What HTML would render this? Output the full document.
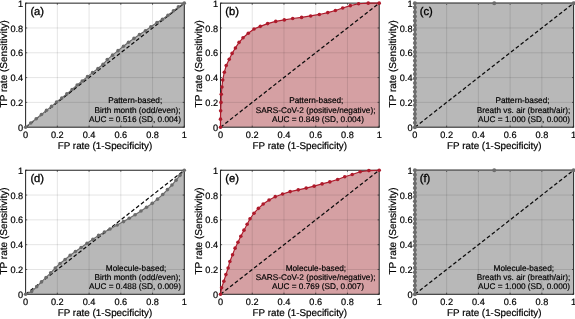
<!DOCTYPE html>
<html lang="en"><head><meta charset="utf-8"><title>ROC curves</title>
<style>
html,body{margin:0;padding:0;background:#fff;}
body{width:575px;height:319px;overflow:hidden;}
svg{display:block;font-family:"Liberation Sans", Arial, Helvetica, sans-serif;text-rendering:geometricPrecision;will-change:transform;}
svg text{fill:#000;stroke:#000;stroke-width:0.2px;}
.tk text{font-size:9.2px;}
.al{font-size:9.85px;}
svg .pl{font-size:11.2px;stroke-width:0.32px;}
svg .an{font-size:8.25px;stroke-width:0.18px;}
svg .yl{font-size:10.03px;}
</style></head><body>
<svg width="575" height="319" viewBox="0 0 575 319">
<rect width="575" height="319" fill="#fff"/>
<g>
<rect x="25.6" y="3.15" width="158.7" height="124.05" fill="#fff"/>
<polygon points="25.6,127.2 30.73,122.93 36.2,118.76 41.45,114.55 46.5,110.37 51.53,106.4 56.55,102.02 61.78,98.05 66.86,93.83 72.1,89.43 77.18,85.02 82.26,81.05 87.49,76.64 92.51,72.67 97.97,68.52 103.05,64.31 107.28,59.59 112.54,55.13 118.03,50.66 123.5,46.26 128.53,42.29 133.99,38.42 139.5,34.45 145.42,30.69 150.89,26.72 157,22.54 162.49,19.28 167.95,15.31 173.46,10.87 178.43,6.87 184.3,3.15 184.3,127.2 25.6,127.2" fill="#b8b8b8"/>
<path d="M57.34 3.15V127.2M25.6 102.39H184.3" stroke="#000" stroke-opacity="0.135" stroke-width="0.8" fill="none"/>
<path d="M89.08 3.15V127.2M25.6 77.58H184.3" stroke="#000" stroke-opacity="0.135" stroke-width="0.8" fill="none"/>
<path d="M120.82 3.15V127.2M25.6 52.77H184.3" stroke="#000" stroke-opacity="0.135" stroke-width="0.8" fill="none"/>
<path d="M152.56 3.15V127.2M25.6 27.96H184.3" stroke="#000" stroke-opacity="0.135" stroke-width="0.8" fill="none"/>
<line x1="25.6" y1="127.2" x2="184.3" y2="3.15" stroke="#0a0a0a" stroke-width="1.25" stroke-dasharray="3.75 2.35"/>
<rect x="25.6" y="3.15" width="158.7" height="124.05" fill="none" stroke="#2a2a2a" stroke-width="1.05"/>
<path d="M25.6 127.2v-1.6M25.6 3.15v1.6M25.6 127.2h1.6M184.3 127.2h-1.6M57.34 127.2v-1.6M57.34 3.15v1.6M25.6 102.39h1.6M184.3 102.39h-1.6M89.08 127.2v-1.6M89.08 3.15v1.6M25.6 77.58h1.6M184.3 77.58h-1.6M120.82 127.2v-1.6M120.82 3.15v1.6M25.6 52.77h1.6M184.3 52.77h-1.6M152.56 127.2v-1.6M152.56 3.15v1.6M25.6 27.96h1.6M184.3 27.96h-1.6M184.3 127.2v-1.6M184.3 3.15v1.6M25.6 3.15h1.6M184.3 3.15h-1.6" stroke="#262626" stroke-width="0.7" fill="none"/>
<polyline points="25.6,127.2 30.73,122.93 36.2,118.76 41.45,114.55 46.5,110.37 51.53,106.4 56.55,102.02 61.78,98.05 66.86,93.83 72.1,89.43 77.18,85.02 82.26,81.05 87.49,76.64 92.51,72.67 97.97,68.52 103.05,64.31 107.28,59.59 112.54,55.13 118.03,50.66 123.5,46.26 128.53,42.29 133.99,38.42 139.5,34.45 145.42,30.69 150.89,26.72 157,22.54 162.49,19.28 167.95,15.31 173.46,10.87 178.43,6.87 184.3,3.15" fill="none" stroke="#6c6c6c" stroke-width="1.15" stroke-linejoin="round"/>
<g fill="#6c6c6c"><circle cx="25.6" cy="127.2" r="1.8"/><circle cx="30.73" cy="122.93" r="1.8"/><circle cx="36.2" cy="118.76" r="1.8"/><circle cx="41.45" cy="114.55" r="1.8"/><circle cx="46.5" cy="110.37" r="1.8"/><circle cx="51.53" cy="106.4" r="1.8"/><circle cx="56.55" cy="102.02" r="1.8"/><circle cx="61.78" cy="98.05" r="1.8"/><circle cx="66.86" cy="93.83" r="1.8"/><circle cx="72.1" cy="89.43" r="1.8"/><circle cx="77.18" cy="85.02" r="1.8"/><circle cx="82.26" cy="81.05" r="1.8"/><circle cx="87.49" cy="76.64" r="1.8"/><circle cx="92.51" cy="72.67" r="1.8"/><circle cx="97.97" cy="68.52" r="1.8"/><circle cx="103.05" cy="64.31" r="1.8"/><circle cx="107.28" cy="59.59" r="1.8"/><circle cx="112.54" cy="55.13" r="1.8"/><circle cx="118.03" cy="50.66" r="1.8"/><circle cx="123.5" cy="46.26" r="1.8"/><circle cx="128.53" cy="42.29" r="1.8"/><circle cx="133.99" cy="38.42" r="1.8"/><circle cx="139.5" cy="34.45" r="1.8"/><circle cx="145.42" cy="30.69" r="1.8"/><circle cx="150.89" cy="26.72" r="1.8"/><circle cx="157" cy="22.54" r="1.8"/><circle cx="162.49" cy="19.28" r="1.8"/><circle cx="167.95" cy="15.31" r="1.8"/><circle cx="173.46" cy="10.87" r="1.8"/><circle cx="178.43" cy="6.87" r="1.8"/><circle cx="184.3" cy="3.15" r="1.8"/></g>
<g class="tk">
<text x="25.6" y="138.3" text-anchor="middle">0</text>
<text x="23.2" y="130.75" text-anchor="end">0</text>
<text x="57.34" y="138.3" text-anchor="middle">0.2</text>
<text x="23.2" y="105.94" text-anchor="end">0.2</text>
<text x="89.08" y="138.3" text-anchor="middle">0.4</text>
<text x="23.2" y="81.13" text-anchor="end">0.4</text>
<text x="120.82" y="138.3" text-anchor="middle">0.6</text>
<text x="23.2" y="56.32" text-anchor="end">0.6</text>
<text x="152.56" y="138.3" text-anchor="middle">0.8</text>
<text x="23.2" y="31.51" text-anchor="end">0.8</text>
<text x="184.3" y="138.3" text-anchor="middle">1</text>
<text x="23.2" y="6.7" text-anchor="end">1</text>
</g>
<text class="al" x="104.95" y="149.05" text-anchor="middle">FP rate (1-Specificity)</text>
<text class="al yl" transform="translate(6.7 63.85) rotate(-90)" text-anchor="middle">TP rate (Sensitivity)</text>
<text class="pl" x="30.4" y="15.2">(a)</text>
<text class="an" x="135.2" y="103.4" text-anchor="middle">Pattern-based;</text>
<text class="an" x="137.5" y="112.85" text-anchor="middle">Birth month (odd/even);</text>
<text class="an" x="135" y="122.3" text-anchor="middle">AUC = 0.516 (SD, 0.004)</text>
</g>
<g>
<rect x="220.5" y="3.15" width="158.7" height="124.05" fill="#fff"/>
<polygon points="220.5,127.2 220.5,119.14 220.66,110.83 220.98,102.39 221.29,94.2 221.93,87.01 222.72,79.94 224.31,72.25 226.21,65.55 229.23,59.34 232.09,53.39 235.42,47.93 239.07,42.35 243.04,37.76 248.27,33.29 253.99,28.95 260.33,26.35 267.63,23.62 275.73,21.39 284.3,19.9 292.71,18.53 301.6,17.42 310.64,15.93 319.37,14.44 327.78,12.58 335.4,10.47 342.7,7.99 350.32,5.63 358.57,3.77 368.25,3.15 379.2,3.15 379.2,127.2 220.5,127.2" fill="#d5a0a3"/>
<path d="M252.24 3.15V127.2M220.5 102.39H379.2" stroke="#000" stroke-opacity="0.135" stroke-width="0.8" fill="none"/>
<path d="M283.98 3.15V127.2M220.5 77.58H379.2" stroke="#000" stroke-opacity="0.135" stroke-width="0.8" fill="none"/>
<path d="M315.72 3.15V127.2M220.5 52.77H379.2" stroke="#000" stroke-opacity="0.135" stroke-width="0.8" fill="none"/>
<path d="M347.46 3.15V127.2M220.5 27.96H379.2" stroke="#000" stroke-opacity="0.135" stroke-width="0.8" fill="none"/>
<line x1="220.5" y1="127.2" x2="379.2" y2="3.15" stroke="#0a0a0a" stroke-width="1.25" stroke-dasharray="3.75 2.35"/>
<rect x="220.5" y="3.15" width="158.7" height="124.05" fill="none" stroke="#2a2a2a" stroke-width="1.05"/>
<path d="M220.5 127.2v-1.6M220.5 3.15v1.6M220.5 127.2h1.6M379.2 127.2h-1.6M252.24 127.2v-1.6M252.24 3.15v1.6M220.5 102.39h1.6M379.2 102.39h-1.6M283.98 127.2v-1.6M283.98 3.15v1.6M220.5 77.58h1.6M379.2 77.58h-1.6M315.72 127.2v-1.6M315.72 3.15v1.6M220.5 52.77h1.6M379.2 52.77h-1.6M347.46 127.2v-1.6M347.46 3.15v1.6M220.5 27.96h1.6M379.2 27.96h-1.6M379.2 127.2v-1.6M379.2 3.15v1.6M220.5 3.15h1.6M379.2 3.15h-1.6" stroke="#262626" stroke-width="0.7" fill="none"/>
<polyline points="220.5,127.2 220.5,119.14 220.66,110.83 220.98,102.39 221.29,94.2 221.93,87.01 222.72,79.94 224.31,72.25 226.21,65.55 229.23,59.34 232.09,53.39 235.42,47.93 239.07,42.35 243.04,37.76 248.27,33.29 253.99,28.95 260.33,26.35 267.63,23.62 275.73,21.39 284.3,19.9 292.71,18.53 301.6,17.42 310.64,15.93 319.37,14.44 327.78,12.58 335.4,10.47 342.7,7.99 350.32,5.63 358.57,3.77 368.25,3.15 379.2,3.15" fill="none" stroke="#ae1a2b" stroke-width="1.15" stroke-linejoin="round"/>
<g fill="#ae1a2b"><circle cx="220.5" cy="127.2" r="1.8"/><circle cx="220.5" cy="119.14" r="1.8"/><circle cx="220.66" cy="110.83" r="1.8"/><circle cx="220.98" cy="102.39" r="1.8"/><circle cx="221.29" cy="94.2" r="1.8"/><circle cx="221.93" cy="87.01" r="1.8"/><circle cx="222.72" cy="79.94" r="1.8"/><circle cx="224.31" cy="72.25" r="1.8"/><circle cx="226.21" cy="65.55" r="1.8"/><circle cx="229.23" cy="59.34" r="1.8"/><circle cx="232.09" cy="53.39" r="1.8"/><circle cx="235.42" cy="47.93" r="1.8"/><circle cx="239.07" cy="42.35" r="1.8"/><circle cx="243.04" cy="37.76" r="1.8"/><circle cx="248.27" cy="33.29" r="1.8"/><circle cx="253.99" cy="28.95" r="1.8"/><circle cx="260.33" cy="26.35" r="1.8"/><circle cx="267.63" cy="23.62" r="1.8"/><circle cx="275.73" cy="21.39" r="1.8"/><circle cx="284.3" cy="19.9" r="1.8"/><circle cx="292.71" cy="18.53" r="1.8"/><circle cx="301.6" cy="17.42" r="1.8"/><circle cx="310.64" cy="15.93" r="1.8"/><circle cx="319.37" cy="14.44" r="1.8"/><circle cx="327.78" cy="12.58" r="1.8"/><circle cx="335.4" cy="10.47" r="1.8"/><circle cx="342.7" cy="7.99" r="1.8"/><circle cx="350.32" cy="5.63" r="1.8"/><circle cx="358.57" cy="3.77" r="1.8"/><circle cx="368.25" cy="3.15" r="1.8"/><circle cx="379.2" cy="3.15" r="1.8"/></g>
<g class="tk">
<text x="220.5" y="138.3" text-anchor="middle">0</text>
<text x="218.1" y="130.75" text-anchor="end">0</text>
<text x="252.24" y="138.3" text-anchor="middle">0.2</text>
<text x="218.1" y="105.94" text-anchor="end">0.2</text>
<text x="283.98" y="138.3" text-anchor="middle">0.4</text>
<text x="218.1" y="81.13" text-anchor="end">0.4</text>
<text x="315.72" y="138.3" text-anchor="middle">0.6</text>
<text x="218.1" y="56.32" text-anchor="end">0.6</text>
<text x="347.46" y="138.3" text-anchor="middle">0.8</text>
<text x="218.1" y="31.51" text-anchor="end">0.8</text>
<text x="379.2" y="138.3" text-anchor="middle">1</text>
<text x="218.1" y="6.7" text-anchor="end">1</text>
</g>
<text class="al" x="299.85" y="149.05" text-anchor="middle">FP rate (1-Specificity)</text>
<text class="al yl" transform="translate(201.6 63.85) rotate(-90)" text-anchor="middle">TP rate (Sensitivity)</text>
<text class="pl" x="225.3" y="15.2">(b)</text>
<text class="an" x="316.3" y="103.4" text-anchor="middle">Pattern-based;</text>
<text class="an" x="315.6" y="112.85" text-anchor="middle">SARS-CoV-2 (positive/negative);</text>
<text class="an" x="318" y="122.3" text-anchor="middle">AUC = 0.849 (SD, 0.004)</text>
</g>
<g>
<rect x="414.9" y="3.15" width="158.7" height="124.05" fill="#fff"/>
<polygon points="414.9,127.2 414.9,122.77 414.9,118.34 414.9,113.91 414.9,109.48 414.9,105.05 414.9,100.62 414.9,96.19 414.9,91.76 414.9,87.33 414.9,82.9 414.9,78.47 414.9,74.04 414.9,69.61 414.9,65.18 414.9,60.74 414.9,56.31 414.9,51.88 414.9,47.45 414.9,43.02 414.9,38.59 414.9,34.16 414.9,29.73 414.9,25.3 414.9,20.87 414.9,16.44 414.9,12.01 414.9,7.58 414.9,3.15 494.25,3.15 573.6,3.15 573.6,127.2 414.9,127.2" fill="#b8b8b8"/>
<path d="M446.64 3.15V127.2M414.9 102.39H573.6" stroke="#000" stroke-opacity="0.135" stroke-width="0.8" fill="none"/>
<path d="M478.38 3.15V127.2M414.9 77.58H573.6" stroke="#000" stroke-opacity="0.135" stroke-width="0.8" fill="none"/>
<path d="M510.12 3.15V127.2M414.9 52.77H573.6" stroke="#000" stroke-opacity="0.135" stroke-width="0.8" fill="none"/>
<path d="M541.86 3.15V127.2M414.9 27.96H573.6" stroke="#000" stroke-opacity="0.135" stroke-width="0.8" fill="none"/>
<line x1="414.9" y1="127.2" x2="573.6" y2="3.15" stroke="#0a0a0a" stroke-width="1.25" stroke-dasharray="3.75 2.35"/>
<rect x="414.9" y="3.15" width="158.7" height="124.05" fill="none" stroke="#2a2a2a" stroke-width="1.05"/>
<path d="M414.9 127.2v-1.6M414.9 3.15v1.6M414.9 127.2h1.6M573.6 127.2h-1.6M446.64 127.2v-1.6M446.64 3.15v1.6M414.9 102.39h1.6M573.6 102.39h-1.6M478.38 127.2v-1.6M478.38 3.15v1.6M414.9 77.58h1.6M573.6 77.58h-1.6M510.12 127.2v-1.6M510.12 3.15v1.6M414.9 52.77h1.6M573.6 52.77h-1.6M541.86 127.2v-1.6M541.86 3.15v1.6M414.9 27.96h1.6M573.6 27.96h-1.6M573.6 127.2v-1.6M573.6 3.15v1.6M414.9 3.15h1.6M573.6 3.15h-1.6" stroke="#262626" stroke-width="0.7" fill="none"/>
<polyline points="414.9,127.2 414.9,122.77 414.9,118.34 414.9,113.91 414.9,109.48 414.9,105.05 414.9,100.62 414.9,96.19 414.9,91.76 414.9,87.33 414.9,82.9 414.9,78.47 414.9,74.04 414.9,69.61 414.9,65.18 414.9,60.74 414.9,56.31 414.9,51.88 414.9,47.45 414.9,43.02 414.9,38.59 414.9,34.16 414.9,29.73 414.9,25.3 414.9,20.87 414.9,16.44 414.9,12.01 414.9,7.58 414.9,3.15 494.25,3.15 573.6,3.15" fill="none" stroke="#6c6c6c" stroke-width="1.5" stroke-linejoin="round"/>
<g fill="#6c6c6c"><circle cx="414.9" cy="127.2" r="2.0"/><circle cx="414.9" cy="122.77" r="2.0"/><circle cx="414.9" cy="118.34" r="2.0"/><circle cx="414.9" cy="113.91" r="2.0"/><circle cx="414.9" cy="109.48" r="2.0"/><circle cx="414.9" cy="105.05" r="2.0"/><circle cx="414.9" cy="100.62" r="2.0"/><circle cx="414.9" cy="96.19" r="2.0"/><circle cx="414.9" cy="91.76" r="2.0"/><circle cx="414.9" cy="87.33" r="2.0"/><circle cx="414.9" cy="82.9" r="2.0"/><circle cx="414.9" cy="78.47" r="2.0"/><circle cx="414.9" cy="74.04" r="2.0"/><circle cx="414.9" cy="69.61" r="2.0"/><circle cx="414.9" cy="65.18" r="2.0"/><circle cx="414.9" cy="60.74" r="2.0"/><circle cx="414.9" cy="56.31" r="2.0"/><circle cx="414.9" cy="51.88" r="2.0"/><circle cx="414.9" cy="47.45" r="2.0"/><circle cx="414.9" cy="43.02" r="2.0"/><circle cx="414.9" cy="38.59" r="2.0"/><circle cx="414.9" cy="34.16" r="2.0"/><circle cx="414.9" cy="29.73" r="2.0"/><circle cx="414.9" cy="25.3" r="2.0"/><circle cx="414.9" cy="20.87" r="2.0"/><circle cx="414.9" cy="16.44" r="2.0"/><circle cx="414.9" cy="12.01" r="2.0"/><circle cx="414.9" cy="7.58" r="2.0"/><circle cx="414.9" cy="3.15" r="2.0"/><circle cx="494.25" cy="3.15" r="2.0"/><circle cx="573.6" cy="3.15" r="2.0"/></g>
<g class="tk">
<text x="414.9" y="138.3" text-anchor="middle">0</text>
<text x="412.5" y="130.75" text-anchor="end">0</text>
<text x="446.64" y="138.3" text-anchor="middle">0.2</text>
<text x="412.5" y="105.94" text-anchor="end">0.2</text>
<text x="478.38" y="138.3" text-anchor="middle">0.4</text>
<text x="412.5" y="81.13" text-anchor="end">0.4</text>
<text x="510.12" y="138.3" text-anchor="middle">0.6</text>
<text x="412.5" y="56.32" text-anchor="end">0.6</text>
<text x="541.86" y="138.3" text-anchor="middle">0.8</text>
<text x="412.5" y="31.51" text-anchor="end">0.8</text>
<text x="573.6" y="138.3" text-anchor="middle">1</text>
<text x="412.5" y="6.7" text-anchor="end">1</text>
</g>
<text class="al" x="494.25" y="149.05" text-anchor="middle">FP rate (1-Specificity)</text>
<text class="al yl" transform="translate(396 63.85) rotate(-90)" text-anchor="middle">TP rate (Sensitivity)</text>
<text class="pl" x="419.7" y="15.2">(c)</text>
<text class="an" x="522.5" y="103.4" text-anchor="middle">Pattern-based;</text>
<text class="an" x="523.5" y="112.85" text-anchor="middle">Breath vs. air (breath/air);</text>
<text class="an" x="524.1" y="122.3" text-anchor="middle">AUC = 1.000 (SD, 0.000)</text>
</g>
<g>
<rect x="25.6" y="170.25" width="158.7" height="124.05" fill="#fff"/>
<polygon points="25.6,294.3 31.63,291.57 36.71,286.73 41.47,281.89 46.07,277.43 50.67,272.84 55.28,268 60.04,263.54 65.12,259.44 70.19,255.22 75.43,251.5 81.14,247.53 87.02,243.32 92.89,239.35 98.6,235.38 104.47,232.03 110.03,229.05 117.17,224.96 123.52,221.61 129.23,218.26 135.1,214.78 140.97,211.06 146.53,207.28 152.24,203.37 157.48,199.15 162.72,194.5 167.48,189.6 171.92,185.01 176.05,180.17 180.02,175.34 184.3,170.25 184.3,294.3 25.6,294.3" fill="#b8b8b8"/>
<path d="M57.34 170.25V294.3M25.6 269.49H184.3" stroke="#000" stroke-opacity="0.135" stroke-width="0.8" fill="none"/>
<path d="M89.08 170.25V294.3M25.6 244.68H184.3" stroke="#000" stroke-opacity="0.135" stroke-width="0.8" fill="none"/>
<path d="M120.82 170.25V294.3M25.6 219.87H184.3" stroke="#000" stroke-opacity="0.135" stroke-width="0.8" fill="none"/>
<path d="M152.56 170.25V294.3M25.6 195.06H184.3" stroke="#000" stroke-opacity="0.135" stroke-width="0.8" fill="none"/>
<line x1="25.6" y1="294.3" x2="184.3" y2="170.25" stroke="#0a0a0a" stroke-width="1.25" stroke-dasharray="3.75 2.35"/>
<rect x="25.6" y="170.25" width="158.7" height="124.05" fill="none" stroke="#2a2a2a" stroke-width="1.05"/>
<path d="M25.6 294.3v-1.6M25.6 170.25v1.6M25.6 294.3h1.6M184.3 294.3h-1.6M57.34 294.3v-1.6M57.34 170.25v1.6M25.6 269.49h1.6M184.3 269.49h-1.6M89.08 294.3v-1.6M89.08 170.25v1.6M25.6 244.68h1.6M184.3 244.68h-1.6M120.82 294.3v-1.6M120.82 170.25v1.6M25.6 219.87h1.6M184.3 219.87h-1.6M152.56 294.3v-1.6M152.56 170.25v1.6M25.6 195.06h1.6M184.3 195.06h-1.6M184.3 294.3v-1.6M184.3 170.25v1.6M25.6 170.25h1.6M184.3 170.25h-1.6" stroke="#262626" stroke-width="0.7" fill="none"/>
<polyline points="25.6,294.3 31.63,291.57 36.71,286.73 41.47,281.89 46.07,277.43 50.67,272.84 55.28,268 60.04,263.54 65.12,259.44 70.19,255.22 75.43,251.5 81.14,247.53 87.02,243.32 92.89,239.35 98.6,235.38 104.47,232.03 110.03,229.05 117.17,224.96 123.52,221.61 129.23,218.26 135.1,214.78 140.97,211.06 146.53,207.28 152.24,203.37 157.48,199.15 162.72,194.5 167.48,189.6 171.92,185.01 176.05,180.17 180.02,175.34 184.3,170.25" fill="none" stroke="#6c6c6c" stroke-width="1.15" stroke-linejoin="round"/>
<g fill="#6c6c6c"><circle cx="25.6" cy="294.3" r="1.8"/><circle cx="31.63" cy="291.57" r="1.8"/><circle cx="36.71" cy="286.73" r="1.8"/><circle cx="41.47" cy="281.89" r="1.8"/><circle cx="46.07" cy="277.43" r="1.8"/><circle cx="50.67" cy="272.84" r="1.8"/><circle cx="55.28" cy="268" r="1.8"/><circle cx="60.04" cy="263.54" r="1.8"/><circle cx="65.12" cy="259.44" r="1.8"/><circle cx="70.19" cy="255.22" r="1.8"/><circle cx="75.43" cy="251.5" r="1.8"/><circle cx="81.14" cy="247.53" r="1.8"/><circle cx="87.02" cy="243.32" r="1.8"/><circle cx="92.89" cy="239.35" r="1.8"/><circle cx="98.6" cy="235.38" r="1.8"/><circle cx="104.47" cy="232.03" r="1.8"/><circle cx="110.03" cy="229.05" r="1.8"/><circle cx="117.17" cy="224.96" r="1.8"/><circle cx="123.52" cy="221.61" r="1.8"/><circle cx="129.23" cy="218.26" r="1.8"/><circle cx="135.1" cy="214.78" r="1.8"/><circle cx="140.97" cy="211.06" r="1.8"/><circle cx="146.53" cy="207.28" r="1.8"/><circle cx="152.24" cy="203.37" r="1.8"/><circle cx="157.48" cy="199.15" r="1.8"/><circle cx="162.72" cy="194.5" r="1.8"/><circle cx="167.48" cy="189.6" r="1.8"/><circle cx="171.92" cy="185.01" r="1.8"/><circle cx="176.05" cy="180.17" r="1.8"/><circle cx="180.02" cy="175.34" r="1.8"/><circle cx="184.3" cy="170.25" r="1.8"/></g>
<g class="tk">
<text x="25.6" y="305.4" text-anchor="middle">0</text>
<text x="23.2" y="297.85" text-anchor="end">0</text>
<text x="57.34" y="305.4" text-anchor="middle">0.2</text>
<text x="23.2" y="273.04" text-anchor="end">0.2</text>
<text x="89.08" y="305.4" text-anchor="middle">0.4</text>
<text x="23.2" y="248.23" text-anchor="end">0.4</text>
<text x="120.82" y="305.4" text-anchor="middle">0.6</text>
<text x="23.2" y="223.42" text-anchor="end">0.6</text>
<text x="152.56" y="305.4" text-anchor="middle">0.8</text>
<text x="23.2" y="198.61" text-anchor="end">0.8</text>
<text x="184.3" y="305.4" text-anchor="middle">1</text>
<text x="23.2" y="173.8" text-anchor="end">1</text>
</g>
<text class="al" x="104.95" y="316.15" text-anchor="middle">FP rate (1-Specificity)</text>
<text class="al yl" transform="translate(6.7 230.95) rotate(-90)" text-anchor="middle">TP rate (Sensitivity)</text>
<text class="pl" x="30.4" y="182.3">(d)</text>
<text class="an" x="136.1" y="270.5" text-anchor="middle">Molecule-based;</text>
<text class="an" x="137.5" y="279.95" text-anchor="middle">Birth month (odd/even);</text>
<text class="an" x="135" y="289.4" text-anchor="middle">AUC = 0.488 (SD, 0.009)</text>
</g>
<g>
<rect x="220.5" y="170.25" width="158.7" height="124.05" fill="#fff"/>
<polygon points="220.5,294.3 221.61,287.85 223.83,281.27 225.9,274.58 228.12,268 229.86,261.43 232.56,254.73 235.1,248.15 237.96,242.2 240.81,236.24 243.99,230.17 247.16,224.21 250.02,218.75 253.99,213.23 258.43,208.33 263.19,203.99 269.06,200.02 275.25,196.67 282.55,194.07 290.17,191.59 298.26,189.85 306.2,188.11 314.13,186.13 322.07,183.9 329.84,181.91 337.62,179.55 344.76,176.82 352.22,174.47 360.16,171.74 368.88,170.62 379.2,170.25 379.2,294.3 220.5,294.3" fill="#d5a0a3"/>
<path d="M252.24 170.25V294.3M220.5 269.49H379.2" stroke="#000" stroke-opacity="0.135" stroke-width="0.8" fill="none"/>
<path d="M283.98 170.25V294.3M220.5 244.68H379.2" stroke="#000" stroke-opacity="0.135" stroke-width="0.8" fill="none"/>
<path d="M315.72 170.25V294.3M220.5 219.87H379.2" stroke="#000" stroke-opacity="0.135" stroke-width="0.8" fill="none"/>
<path d="M347.46 170.25V294.3M220.5 195.06H379.2" stroke="#000" stroke-opacity="0.135" stroke-width="0.8" fill="none"/>
<line x1="220.5" y1="294.3" x2="379.2" y2="170.25" stroke="#0a0a0a" stroke-width="1.25" stroke-dasharray="3.75 2.35"/>
<rect x="220.5" y="170.25" width="158.7" height="124.05" fill="none" stroke="#2a2a2a" stroke-width="1.05"/>
<path d="M220.5 294.3v-1.6M220.5 170.25v1.6M220.5 294.3h1.6M379.2 294.3h-1.6M252.24 294.3v-1.6M252.24 170.25v1.6M220.5 269.49h1.6M379.2 269.49h-1.6M283.98 294.3v-1.6M283.98 170.25v1.6M220.5 244.68h1.6M379.2 244.68h-1.6M315.72 294.3v-1.6M315.72 170.25v1.6M220.5 219.87h1.6M379.2 219.87h-1.6M347.46 294.3v-1.6M347.46 170.25v1.6M220.5 195.06h1.6M379.2 195.06h-1.6M379.2 294.3v-1.6M379.2 170.25v1.6M220.5 170.25h1.6M379.2 170.25h-1.6" stroke="#262626" stroke-width="0.7" fill="none"/>
<polyline points="220.5,294.3 221.61,287.85 223.83,281.27 225.9,274.58 228.12,268 229.86,261.43 232.56,254.73 235.1,248.15 237.96,242.2 240.81,236.24 243.99,230.17 247.16,224.21 250.02,218.75 253.99,213.23 258.43,208.33 263.19,203.99 269.06,200.02 275.25,196.67 282.55,194.07 290.17,191.59 298.26,189.85 306.2,188.11 314.13,186.13 322.07,183.9 329.84,181.91 337.62,179.55 344.76,176.82 352.22,174.47 360.16,171.74 368.88,170.62 379.2,170.25" fill="none" stroke="#ae1a2b" stroke-width="1.15" stroke-linejoin="round"/>
<g fill="#ae1a2b"><circle cx="220.5" cy="294.3" r="1.8"/><circle cx="221.61" cy="287.85" r="1.8"/><circle cx="223.83" cy="281.27" r="1.8"/><circle cx="225.9" cy="274.58" r="1.8"/><circle cx="228.12" cy="268" r="1.8"/><circle cx="229.86" cy="261.43" r="1.8"/><circle cx="232.56" cy="254.73" r="1.8"/><circle cx="235.1" cy="248.15" r="1.8"/><circle cx="237.96" cy="242.2" r="1.8"/><circle cx="240.81" cy="236.24" r="1.8"/><circle cx="243.99" cy="230.17" r="1.8"/><circle cx="247.16" cy="224.21" r="1.8"/><circle cx="250.02" cy="218.75" r="1.8"/><circle cx="253.99" cy="213.23" r="1.8"/><circle cx="258.43" cy="208.33" r="1.8"/><circle cx="263.19" cy="203.99" r="1.8"/><circle cx="269.06" cy="200.02" r="1.8"/><circle cx="275.25" cy="196.67" r="1.8"/><circle cx="282.55" cy="194.07" r="1.8"/><circle cx="290.17" cy="191.59" r="1.8"/><circle cx="298.26" cy="189.85" r="1.8"/><circle cx="306.2" cy="188.11" r="1.8"/><circle cx="314.13" cy="186.13" r="1.8"/><circle cx="322.07" cy="183.9" r="1.8"/><circle cx="329.84" cy="181.91" r="1.8"/><circle cx="337.62" cy="179.55" r="1.8"/><circle cx="344.76" cy="176.82" r="1.8"/><circle cx="352.22" cy="174.47" r="1.8"/><circle cx="360.16" cy="171.74" r="1.8"/><circle cx="368.88" cy="170.62" r="1.8"/><circle cx="379.2" cy="170.25" r="1.8"/></g>
<g class="tk">
<text x="220.5" y="305.4" text-anchor="middle">0</text>
<text x="218.1" y="297.85" text-anchor="end">0</text>
<text x="252.24" y="305.4" text-anchor="middle">0.2</text>
<text x="218.1" y="273.04" text-anchor="end">0.2</text>
<text x="283.98" y="305.4" text-anchor="middle">0.4</text>
<text x="218.1" y="248.23" text-anchor="end">0.4</text>
<text x="315.72" y="305.4" text-anchor="middle">0.6</text>
<text x="218.1" y="223.42" text-anchor="end">0.6</text>
<text x="347.46" y="305.4" text-anchor="middle">0.8</text>
<text x="218.1" y="198.61" text-anchor="end">0.8</text>
<text x="379.2" y="305.4" text-anchor="middle">1</text>
<text x="218.1" y="173.8" text-anchor="end">1</text>
</g>
<text class="al" x="299.85" y="316.15" text-anchor="middle">FP rate (1-Specificity)</text>
<text class="al yl" transform="translate(201.6 230.95) rotate(-90)" text-anchor="middle">TP rate (Sensitivity)</text>
<text class="pl" x="225.3" y="182.3">(e)</text>
<text class="an" x="315.9" y="270.5" text-anchor="middle">Molecule-based;</text>
<text class="an" x="315.6" y="279.95" text-anchor="middle">SARS-CoV-2 (positive/negative);</text>
<text class="an" x="318" y="289.4" text-anchor="middle">AUC = 0.769 (SD, 0.007)</text>
</g>
<g>
<rect x="414.9" y="170.25" width="158.7" height="124.05" fill="#fff"/>
<polygon points="414.9,294.3 414.9,289.87 414.9,285.44 414.9,281.01 414.9,276.58 414.9,272.15 414.9,267.72 414.9,263.29 414.9,258.86 414.9,254.43 414.9,250 414.9,245.57 414.9,241.14 414.9,236.71 414.9,232.28 414.9,227.84 414.9,223.41 414.9,218.98 414.9,214.55 414.9,210.12 414.9,205.69 414.9,201.26 414.9,196.83 414.9,192.4 414.9,187.97 414.9,183.54 414.9,179.11 414.9,174.68 414.9,170.25 494.25,170.25 573.6,170.25 573.6,294.3 414.9,294.3" fill="#b8b8b8"/>
<path d="M446.64 170.25V294.3M414.9 269.49H573.6" stroke="#000" stroke-opacity="0.135" stroke-width="0.8" fill="none"/>
<path d="M478.38 170.25V294.3M414.9 244.68H573.6" stroke="#000" stroke-opacity="0.135" stroke-width="0.8" fill="none"/>
<path d="M510.12 170.25V294.3M414.9 219.87H573.6" stroke="#000" stroke-opacity="0.135" stroke-width="0.8" fill="none"/>
<path d="M541.86 170.25V294.3M414.9 195.06H573.6" stroke="#000" stroke-opacity="0.135" stroke-width="0.8" fill="none"/>
<line x1="414.9" y1="294.3" x2="573.6" y2="170.25" stroke="#0a0a0a" stroke-width="1.25" stroke-dasharray="3.75 2.35"/>
<rect x="414.9" y="170.25" width="158.7" height="124.05" fill="none" stroke="#2a2a2a" stroke-width="1.05"/>
<path d="M414.9 294.3v-1.6M414.9 170.25v1.6M414.9 294.3h1.6M573.6 294.3h-1.6M446.64 294.3v-1.6M446.64 170.25v1.6M414.9 269.49h1.6M573.6 269.49h-1.6M478.38 294.3v-1.6M478.38 170.25v1.6M414.9 244.68h1.6M573.6 244.68h-1.6M510.12 294.3v-1.6M510.12 170.25v1.6M414.9 219.87h1.6M573.6 219.87h-1.6M541.86 294.3v-1.6M541.86 170.25v1.6M414.9 195.06h1.6M573.6 195.06h-1.6M573.6 294.3v-1.6M573.6 170.25v1.6M414.9 170.25h1.6M573.6 170.25h-1.6" stroke="#262626" stroke-width="0.7" fill="none"/>
<polyline points="414.9,294.3 414.9,289.87 414.9,285.44 414.9,281.01 414.9,276.58 414.9,272.15 414.9,267.72 414.9,263.29 414.9,258.86 414.9,254.43 414.9,250 414.9,245.57 414.9,241.14 414.9,236.71 414.9,232.28 414.9,227.84 414.9,223.41 414.9,218.98 414.9,214.55 414.9,210.12 414.9,205.69 414.9,201.26 414.9,196.83 414.9,192.4 414.9,187.97 414.9,183.54 414.9,179.11 414.9,174.68 414.9,170.25 494.25,170.25 573.6,170.25" fill="none" stroke="#6c6c6c" stroke-width="1.5" stroke-linejoin="round"/>
<g fill="#6c6c6c"><circle cx="414.9" cy="294.3" r="2.0"/><circle cx="414.9" cy="289.87" r="2.0"/><circle cx="414.9" cy="285.44" r="2.0"/><circle cx="414.9" cy="281.01" r="2.0"/><circle cx="414.9" cy="276.58" r="2.0"/><circle cx="414.9" cy="272.15" r="2.0"/><circle cx="414.9" cy="267.72" r="2.0"/><circle cx="414.9" cy="263.29" r="2.0"/><circle cx="414.9" cy="258.86" r="2.0"/><circle cx="414.9" cy="254.43" r="2.0"/><circle cx="414.9" cy="250" r="2.0"/><circle cx="414.9" cy="245.57" r="2.0"/><circle cx="414.9" cy="241.14" r="2.0"/><circle cx="414.9" cy="236.71" r="2.0"/><circle cx="414.9" cy="232.28" r="2.0"/><circle cx="414.9" cy="227.84" r="2.0"/><circle cx="414.9" cy="223.41" r="2.0"/><circle cx="414.9" cy="218.98" r="2.0"/><circle cx="414.9" cy="214.55" r="2.0"/><circle cx="414.9" cy="210.12" r="2.0"/><circle cx="414.9" cy="205.69" r="2.0"/><circle cx="414.9" cy="201.26" r="2.0"/><circle cx="414.9" cy="196.83" r="2.0"/><circle cx="414.9" cy="192.4" r="2.0"/><circle cx="414.9" cy="187.97" r="2.0"/><circle cx="414.9" cy="183.54" r="2.0"/><circle cx="414.9" cy="179.11" r="2.0"/><circle cx="414.9" cy="174.68" r="2.0"/><circle cx="414.9" cy="170.25" r="2.0"/><circle cx="494.25" cy="170.25" r="2.0"/><circle cx="573.6" cy="170.25" r="2.0"/></g>
<g class="tk">
<text x="414.9" y="305.4" text-anchor="middle">0</text>
<text x="412.5" y="297.85" text-anchor="end">0</text>
<text x="446.64" y="305.4" text-anchor="middle">0.2</text>
<text x="412.5" y="273.04" text-anchor="end">0.2</text>
<text x="478.38" y="305.4" text-anchor="middle">0.4</text>
<text x="412.5" y="248.23" text-anchor="end">0.4</text>
<text x="510.12" y="305.4" text-anchor="middle">0.6</text>
<text x="412.5" y="223.42" text-anchor="end">0.6</text>
<text x="541.86" y="305.4" text-anchor="middle">0.8</text>
<text x="412.5" y="198.61" text-anchor="end">0.8</text>
<text x="573.6" y="305.4" text-anchor="middle">1</text>
<text x="412.5" y="173.8" text-anchor="end">1</text>
</g>
<text class="al" x="494.25" y="316.15" text-anchor="middle">FP rate (1-Specificity)</text>
<text class="al yl" transform="translate(396 230.95) rotate(-90)" text-anchor="middle">TP rate (Sensitivity)</text>
<text class="pl" x="419.7" y="182.3">(f)</text>
<text class="an" x="523.8" y="270.5" text-anchor="middle">Molecule-based;</text>
<text class="an" x="523.5" y="279.95" text-anchor="middle">Breath vs. air (breath/air);</text>
<text class="an" x="524.1" y="289.4" text-anchor="middle">AUC = 1.000 (SD, 0.000)</text>
</g>
</svg>
</body></html>
